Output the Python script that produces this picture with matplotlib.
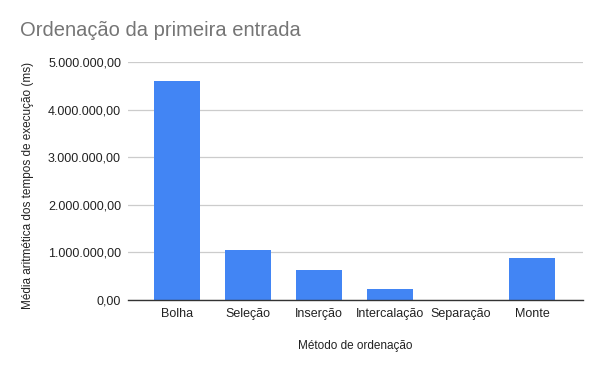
import numpy as np
import matplotlib.pyplot as plt
from matplotlib.ticker import FuncFormatter

metodos = ["Bolha", "Seleção", "Inserção", "Intercalação", "Separação", "Monte"]
tempos_ms = [4600000, 1050000, 635000, 235000, 3000, 880000]
y_ticks = [0, 1000000, 2000000, 3000000, 4000000, 5000000]

plt.rcParams["font.family"] = ["Liberation Sans", "DejaVu Sans"]


def br_fmt(v, pos):
    s = f"{v:,.2f}"
    return s.replace(",", "X").replace(".", ",").replace("X", ".")


fig = plt.figure(figsize=(6, 3.71), dpi=100)
ax = fig.add_axes([0.2133, 0.1914, 0.7584, 0.6416])

x = np.arange(len(metodos))
ax.bar(x, tempos_ms, width=0.65, color="#4285F4", zorder=3)

ax.set_xlim(-0.69, 5.72)
ax.set_ylim(0, 5000000)
ax.set_yticks(y_ticks)
ax.yaxis.set_major_formatter(FuncFormatter(br_fmt))
ax.set_xticks(x)
ax.set_xticklabels(metodos)

ax.grid(axis="y", color="#cccccc", linewidth=0.9, zorder=0)
for s in ["top", "right", "left"]:
    ax.spines[s].set_visible(False)
ax.spines["bottom"].set_color("#333333")
ax.spines["bottom"].set_linewidth(1.0)
ax.spines["bottom"].set_zorder(4)
ax.tick_params(axis="both", length=0, labelsize=9, colors="#222222")
ax.tick_params(axis="y", pad=5)
ax.tick_params(axis="x", pad=6)

ax.set_xlabel("Método de ordenação", fontsize=8.5, color="#222222", labelpad=14)
fig.text(0.047, 0.5, "Média aritmética dos tempos de execução (ms)", rotation=90,
         fontsize=8.5, color="#222222", ha="center", va="center")

fig.text(0.033, 0.918, "Ordenação da primeira entrada", fontsize=14.5,
         color="#757575", ha="left", va="center")

fig.savefig("out.png", dpi=100)
